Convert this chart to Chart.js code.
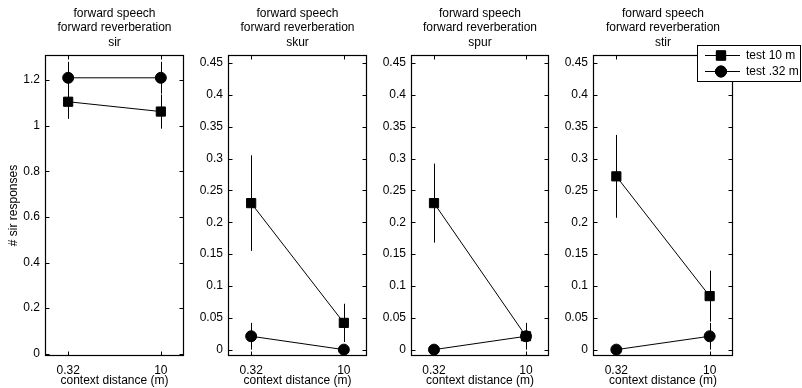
<!DOCTYPE html>
<html>
<head>
<meta charset="utf-8">
<script src="https://cdn.jsdelivr.net/npm/chart.js@4.4.0/dist/chart.umd.min.js"></script>
<style>
  html, body { margin: 0; padding: 0; background: #fff; }
  #wrap { position: relative; width: 802px; height: 388px; overflow: hidden; }
  #wrap canvas { position: absolute; left: 0; top: 0; }
</style>
</head>
<body>
<div id="wrap">
  <canvas id="c0" width="802" height="388"></canvas>
  <canvas id="c1" width="802" height="388"></canvas>
  <canvas id="c2" width="802" height="388"></canvas>
  <canvas id="c3" width="802" height="388"></canvas>
</div>
<script>
// data
const distances = ["0.32", "10"];
const words = ["sir", "skur", "spur", "stir"];
const test10 = [[1.105, 1.062], [0.23, 0.042], [0.23, 0.021], [0.272, 0.084]];
const test10Err = [[0.075, 0.075], [0.075, 0.03], [0.062, 0.02], [0.065, 0.04]];
const test032 = [[1.21, 1.21], [0.021, 0], [0, 0.021], [0, 0.021]];
const test032Err = [[0.07, 0.07], [0.021, 0], [0, 0.021], [0, 0.021]];
const sirTicks = [0, 0.2, 0.4, 0.6, 0.8, 1, 1.2];
const smallTicks = [0, 0.05, 0.1, 0.15, 0.2, 0.25, 0.3, 0.35, 0.4, 0.45];
const yMax = [1.31, 0.4625, 0.4625, 0.4625];
const yMin = -0.01;

// layout
const plotLeft = [45, 228, 411, 593];
const plotRight = [184, 367, 549, 733];
const FONT = '"Liberation Sans", Arial, Helvetica, sans-serif';

Chart.defaults.font.family = FONT;
Chart.defaults.font.size = 12;
Chart.defaults.color = "#000";

// error bars under the markers
const errorBars = {
  id: "errorBars",
  beforeDatasetsDraw(chart) {
    const ctx = chart.ctx;
    const { x, y } = chart.scales;
    ctx.save();
    ctx.strokeStyle = "#000";
    ctx.lineWidth = 1;
    chart.data.datasets.forEach(ds => {
      ds.errors.forEach((e, i) => {
        if (!e) return;
        const px = Math.round(x.getPixelForValue(ds.data[i].x)) + 0.5;
        ctx.beginPath();
        ctx.moveTo(px, y.getPixelForValue(ds.data[i].y - e));
        ctx.lineTo(px, y.getPixelForValue(ds.data[i].y + e));
        ctx.stroke();
      });
    });
    ctx.restore();
  }
};

// box with inward tick marks
const frame = {
  id: "frame",
  afterDraw(chart) {
    const ctx = chart.ctx;
    const { left, right, top, bottom } = chart.chartArea;
    const { x, y } = chart.scales;
    const L = Math.round(left) + 0.5, R = Math.round(right) - 0.5;
    const T = Math.round(top) + 0.5, B = Math.round(bottom) - 0.5;
    ctx.save();
    ctx.strokeStyle = "#000";
    ctx.lineWidth = 1.2;
    ctx.strokeRect(L, T, R - L, B - T);
    ctx.lineWidth = 1;
    ctx.beginPath();
    y.ticks.forEach(t => {
      const py = Math.round(y.getPixelForValue(t.value)) + 0.5;
      ctx.moveTo(L, py); ctx.lineTo(L + 4, py);
      ctx.moveTo(R, py); ctx.lineTo(R - 4, py);
    });
    x.ticks.forEach(t => {
      const px = Math.round(x.getPixelForValue(t.value)) + 0.5;
      ctx.moveTo(px, B); ctx.lineTo(px, B - 4);
      ctx.moveTo(px, T); ctx.lineTo(px, T + 4);
    });
    ctx.stroke();
    ctx.restore();
  }
};

// legend box drawn on the last panel
const boxLegend = {
  id: "boxLegend",
  afterDraw(chart, args, opts) {
    if (!opts.show) return;
    const ctx = chart.ctx;
    ctx.save();
    ctx.fillStyle = "#fff";
    ctx.fillRect(697, 45, 104, 37);
    ctx.strokeStyle = "#000";
    ctx.lineWidth = 1;
    ctx.strokeRect(697.5, 45.5, 103, 36);
    ctx.font = "12px " + FONT;
    ctx.textBaseline = "middle";
    chart.data.datasets.forEach((ds, i) => {
      const yy = 55.5 + i * 16;
      ctx.beginPath();
      ctx.moveTo(705, yy); ctx.lineTo(740, yy);
      ctx.stroke();
      Chart.helpers.drawPoint(ctx, {
        pointStyle: ds.pointStyle, radius: ds.pointRadius, borderWidth: 1
      }, 721, yy);
      ctx.fillStyle = "#000";
      ctx.fill();
      ctx.stroke();
      ctx.fillText(ds.label, 746, yy + 0.5);
    });
    ctx.restore();
  }
};

words.forEach((word, p) => {
  const yTicks = p === 0 ? sirTicks : smallTicks;
  const axisW = p === 0 ? 45 : 40;
  new Chart(document.getElementById("c" + p), {
    type: "line",
    data: {
      datasets: [
        {
          label: "test 10 m",
          data: test10[p].map((v, i) => ({ x: i + 1, y: v })),
          errors: test10Err[p],
          borderColor: "#000",
          borderWidth: 1,
          backgroundColor: "#000",
          pointStyle: "rect",
          pointRadius: 6.5,
          pointBorderWidth: 1,
          order: 1
        },
        {
          label: "test .32 m",
          data: test032[p].map((v, i) => ({ x: i + 1, y: v })),
          errors: test032Err[p],
          borderColor: "#000",
          borderWidth: 1,
          backgroundColor: "#000",
          pointStyle: "circle",
          pointRadius: 5.5,
          pointBorderWidth: 1,
          order: 0
        }
      ]
    },
    options: {
      responsive: false,
      animation: false,
      clip: false,
      layout: {
        padding: { left: plotLeft[p] - axisW, right: 802 - plotRight[p], top: 6, bottom: 0 }
      },
      plugins: {
        legend: { display: false },
        tooltip: { enabled: false },
        title: {
          display: true,
          fullSize: false,
          text: ["forward speech", "forward reverberation", word],
          font: { size: 12, weight: "normal", lineHeight: "14.5px" },
          color: "#000",
          padding: { top: 0, bottom: 5.5 }
        },
        boxLegend: { show: p === 3 }
      },
      scales: {
        x: {
          type: "linear",
          min: 0.75,
          max: 2.25,
          afterBuildTicks: axis => { axis.ticks = distances.map((d, i) => ({ value: i + 1 })); },
          afterFit: axis => { axis.height = 32; },
          grid: { display: false, drawTicks: false },
          border: { display: false },
          ticks: { padding: 7, maxRotation: 0, callback: v => distances[v - 1] },
          title: { display: true, text: "context distance (m)", padding: { top: 0, bottom: 0 } }
        },
        y: {
          type: "linear",
          min: yMin,
          max: yMax[p],
          afterBuildTicks: axis => { axis.ticks = yTicks.map(v => ({ value: v })); },
          afterFit: axis => { axis.width = axisW; },
          grid: { display: false, drawTicks: false },
          border: { display: false },
          ticks: { padding: 5, callback: v => String(+v.toFixed(2)) },
          title: { display: p === 0, text: "# sir responses", padding: { top: 6, bottom: 0 } }
        }
      }
    },
    plugins: [errorBars, frame, boxLegend]
  });
});
</script>
</body>
</html>
